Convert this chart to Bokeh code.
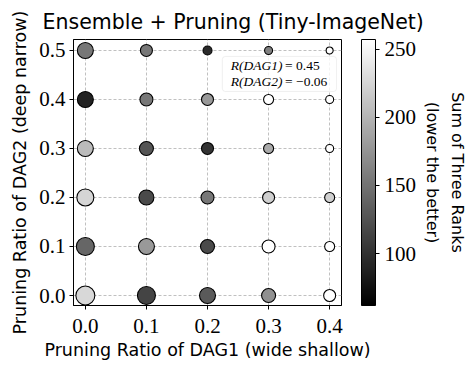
import numpy as np
from bokeh.plotting import figure
from bokeh.models import (ColumnDataSource, LinearColorMapper, FixedTicker, PrintfTickFormatter,
                          Range1d, LinearAxis, BoxAnnotation, Label, ColorBar)
from bokeh.transform import transform
from bokeh.palettes import gray
from bokeh.embed import file_html
from bokeh.resources import INLINE

# ---------------- data ----------------
dag1_ratios = [0.0, 0.1, 0.2, 0.3, 0.4]
dag2_ratios = [0.0, 0.1, 0.2, 0.3, 0.4, 0.5]
# sum of three ranks; rows follow dag2_ratios, columns follow dag1_ratios
rank_sum = [
    [227, 114, 131, 172, 257],
    [140, 179, 119, 257, 257],
    [225, 119, 153, 221, 221],
    [205, 127, 101, 192, 257],
    [ 88, 153, 179, 257, 257],
    [153, 153,  94, 160, 257],
]
# marker size encoding (same layout as rank_sum)
point_size = [
    [19, 18, 16, 14, 12],
    [18, 16, 14, 13, 10],
    [17, 15, 13, 12, 10],
    [16, 14, 12, 10, 8],
    [16, 13, 12, 10, 8],
    [16, 12, 9, 8, 7],
]
r_dag1 = 0.45
r_dag2 = -0.06
cbar_low, cbar_high = 62, 257
cbar_ticks = [100, 150, 200, 250]

xs, ys, vals, sizes = [], [], [], []
for i, yv in enumerate(dag2_ratios):
    for j, xv in enumerate(dag1_ratios):
        xs.append(xv); ys.append(yv)
        vals.append(rank_sum[i][j]); sizes.append(point_size[i][j])
src = ColumnDataSource(dict(x=xs, y=ys, v=vals, s=sizes))

mapper = LinearColorMapper(palette=gray(256), low=cbar_low, high=cbar_high)

SANS = "DejaVu Sans"
SERIF = "Liberation Serif"

p = figure(width=469, height=365,
           x_range=Range1d(-0.0194, 0.4194), y_range=Range1d(-0.0204, 0.5224),
           output_backend="svg", toolbar_location=None,
           min_border_left=73, min_border_right=125, min_border_top=39, min_border_bottom=60,
           title="Ensemble + Pruning (Tiny-ImageNet)")
p.title.text_font = SANS
p.title.text_font_size = "20.5px"
p.title.text_font_style = "normal"
p.title.text_color = "black"
p.title.align = "left"
p.title.offset = -31
p.title.standoff = 12
p.background_fill_color = "white"
p.border_fill_color = "white"
p.outline_line_color = "black"
p.outline_line_width = 1

for ax, ticks in ((p.xaxis, dag1_ratios), (p.yaxis, dag2_ratios)):
    ax.ticker = FixedTicker(ticks=ticks)
    ax.formatter = PrintfTickFormatter(format="%.1f")
    ax.major_label_text_font = SERIF
    ax.major_label_text_font_size = "21px"
    ax.major_label_text_color = "black"
    ax.axis_label_text_font = SANS
    ax.axis_label_text_font_size = "17.5px"
    ax.axis_label_text_font_style = "normal"
    ax.axis_label_text_color = "black"
    ax.axis_line_color = "black"
    ax.major_tick_line_color = "black"
    ax.major_tick_out = 4
    ax.major_tick_in = 0
    ax.minor_tick_line_color = None
p.xaxis.axis_label = "Pruning Ratio of DAG1 (wide shallow)"
p.yaxis.axis_label = "Pruning Ratio of DAG2 (deep narrow)"
p.xaxis.major_label_standoff = 9
p.xaxis.axis_label_standoff = 4
p.yaxis.major_label_standoff = 4
p.yaxis.axis_label_standoff = 6

p.xgrid.ticker = FixedTicker(ticks=dag1_ratios)
p.ygrid.ticker = FixedTicker(ticks=dag2_ratios)
p.grid.grid_line_color = "#b0b0b0"
p.grid.grid_line_width = 0.8
p.grid.grid_line_dash = "3 2"

p.scatter("x", "y", size="s", source=src, fill_color=transform("v", mapper),
          line_color="black", line_width=1.1)

box = BoxAnnotation(left=0.2243, right=0.4113, bottom=0.4163, top=0.4878,
                    fill_color="white", fill_alpha=0.8, line_color="#cccccc",
                    line_width=1, border_radius=3)
p.add_layout(box)


def fmt(v):
    return ("%.2f" % v).replace("-", "\u2212")


for yy, name, val in ((0.469, "R(DAG1)", r_dag1), (0.437, "R(DAG2)", r_dag2)):
    p.add_layout(Label(x=0.238, y=yy, text=name, text_font=SERIF, text_font_style="italic",
                       text_font_size="13.5px", text_baseline="middle", text_align="left",
                       text_color="black"))
    p.add_layout(Label(x=0.327, y=yy, text="= " + fmt(val), text_font=SERIF,
                       text_font_size="13.5px", text_baseline="middle", text_align="left",
                       text_color="black"))

# spacer between the frame and the colour bar (blank axis label)
spacer = LinearAxis(axis_label=" ", ticker=FixedTicker(ticks=[]), axis_line_color=None,
                    major_tick_line_color=None, minor_tick_line_color=None,
                    major_label_text_font_size="0px", major_tick_out=0, major_tick_in=0,
                    minor_tick_out=0, minor_tick_in=0, major_label_standoff=0,
                    axis_label_standoff=0, axis_label_text_font_size="15px",
                    axis_label_text_line_height=1.0)
p.add_layout(spacer, "right")

cbar = ColorBar(color_mapper=mapper, ticker=FixedTicker(ticks=cbar_ticks), width=14,
                padding=0, margin=0, bar_line_color="black", bar_line_width=1,
                border_line_color=None, background_fill_color=None,
                major_label_text_font=SERIF, major_label_text_font_size="21px",
                major_label_text_color="black", major_tick_line_color="black",
                major_tick_out=4, major_tick_in=0, minor_tick_line_color=None,
                label_standoff=5)
p.add_layout(cbar, "right")

for lab, stand in (("(lower the better)", 3), ("Sum of Three Ranks", 3)):
    extra = LinearAxis(axis_label=lab, ticker=FixedTicker(ticks=[]),
                       axis_line_color=None, major_tick_line_color=None,
                       minor_tick_line_color=None, major_label_text_font_size="0px",
                       major_tick_out=0, major_tick_in=0, minor_tick_out=0, minor_tick_in=0,
                       major_label_standoff=0, axis_label_standoff=stand)
    extra.axis_label_text_font = SANS
    extra.axis_label_text_font_size = "16px"
    extra.axis_label_text_font_style = "normal"
    extra.axis_label_text_color = "black"
    p.add_layout(extra, "right")

open("out.html", "w").write(file_html(p, INLINE))
